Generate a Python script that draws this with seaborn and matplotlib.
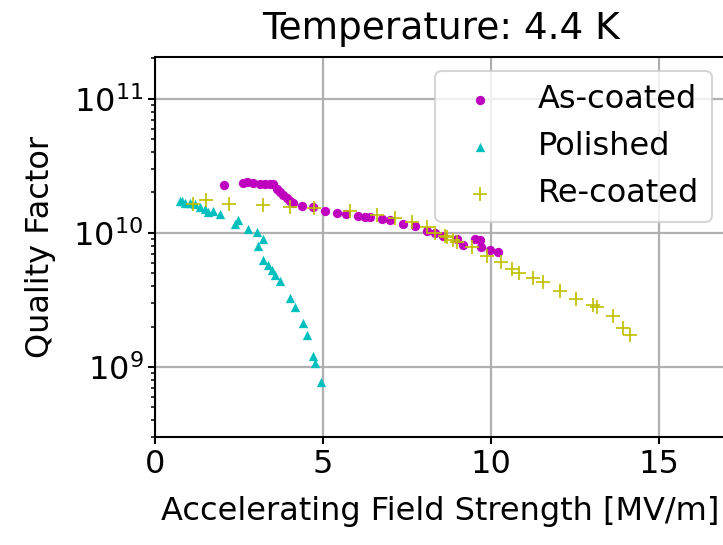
import numpy as np
import pandas as pd
import matplotlib
matplotlib.use("Agg")
import matplotlib.pyplot as plt
import seaborn as sns

# As-coated
asc_x = [2.05, 2.63, 2.73, 2.93, 3.13, 3.27, 3.42, 3.51, 3.62, 3.72, 3.82, 3.92, 4.02, 4.12,
         4.37, 4.71, 5.06, 5.41, 5.70, 6.05, 6.25, 6.40, 6.75, 7.00, 7.39, 7.74, 8.09, 8.33,
         8.58, 8.98, 9.18, 9.52, 9.67, 9.72, 9.97, 10.22]
asc_y = [2.29e10, 2.35e10, 2.39e10, 2.36e10, 2.32e10, 2.33e10, 2.33e10, 2.33e10, 2.13e10, 2.01e10,
         1.90e10, 1.83e10, 1.74e10, 1.68e10, 1.58e10, 1.56e10, 1.46e10, 1.41e10, 1.39e10, 1.34e10,
         1.32e10, 1.31e10, 1.27e10, 1.24e10, 1.17e10, 1.12e10, 1.03e10, 9.9e9, 9.4e9, 9.0e9,
         8.1e9, 9.0e9, 8.9e9, 7.84e9, 7.4e9, 7.15e9]

# Polished
pol_x = [0.74, 0.79, 0.89, 1.04, 1.19, 1.34, 1.49, 1.59, 1.74, 1.93, 2.38, 2.48, 2.78, 3.03,
         3.22, 3.08, 3.22, 3.37, 3.47, 3.57, 3.72, 4.02, 4.17, 4.41, 4.53, 4.69, 4.76, 4.93]
pol_y = [1.74e10, 1.72e10, 1.68e10, 1.67e10, 1.63e10, 1.57e10, 1.51e10, 1.43e10, 1.45e10, 1.39e10,
         1.17e10, 1.24e10, 1.07e10, 1.01e10, 9.05e9, 7.93e9, 6.25e9, 5.73e9, 5.26e9, 4.88e9,
         4.38e9, 3.24e9, 2.81e9, 2.13e9, 1.73e9, 1.21e9, 1.07e9, 7.67e8]

# Re-coated
rec_x = [1.12, 1.52, 2.21, 3.22, 4.02, 4.74, 5.80, 6.62, 7.14, 7.64, 8.09, 8.33, 8.63, 8.68,
         8.88, 8.98, 9.43, 9.87, 10.30, 10.62, 10.84, 11.25, 11.56, 12.05, 12.53, 13.05,
         13.15, 13.64, 13.92, 14.14]
rec_y = [1.63e10, 1.77e10, 1.63e10, 1.62e10, 1.57e10, 1.53e10, 1.46e10, 1.35e10, 1.30e10, 1.20e10,
         1.10e10, 1.00e10, 9.5e9, 9.3e9, 8.9e9, 8.5e9, 7.8e9, 6.75e9, 6.1e9, 5.4e9, 5.05e9,
         4.6e9, 4.3e9, 3.7e9, 3.23e9, 2.89e9, 2.8e9, 2.4e9, 1.94e9, 1.73e9]

labels = ["As-coated", "Polished", "Re-coated"]
title = "Temperature: 4.4 K"
xlabel = "Accelerating Field Strength [MV/m]"
ylabel = "Quality Factor"

plt.rcParams['font.family'] = ['DejaVu Sans']

fig = plt.figure(figsize=(7.23, 5.45), dpi=100)
ax = fig.add_axes([155/723, (545-437)/545, (726-155)/723, (437-57)/545])

df_a = pd.DataFrame({"x": asc_x, "y": asc_y})
df_p = pd.DataFrame({"x": pol_x, "y": pol_y})
df_r = pd.DataFrame({"x": rec_x, "y": rec_y})

MAG = (0.75, 0.0, 0.75)
CYA = (0.0, 0.75, 0.75)
YEL = (0.75, 0.75, 0.0)

sns.scatterplot(data=df_a, x="x", y="y", ax=ax, color=MAG, marker="o", s=45,
                linewidth=0, label=labels[0], zorder=3)
sns.scatterplot(data=df_p, x="x", y="y", ax=ax, color=CYA, marker="^", s=45,
                linewidth=0, label=labels[1], zorder=3)
sns.scatterplot(data=df_r, x="x", y="y", ax=ax, color=YEL, marker="+", s=110,
                linewidth=1.2, label=labels[2], zorder=3)

ax.set_yscale("log")
ax.set_xlim(0, 17)
ax.set_ylim(3.0e8, 2.05e11)
ax.set_xticks([0, 5, 10, 15])
ax.grid(True, which="major", color="#b0b0b0", linewidth=1.6)
ax.set_axisbelow(True)
for s in ax.spines.values():
    s.set_color("black")
    s.set_linewidth(1.5)
ax.tick_params(axis="both", which="major", labelsize=23, colors="black", length=5, width=1.5)
ax.tick_params(axis="y", which="minor", length=3, width=1.1, colors="black")
ax.set_title(title, fontsize=27, pad=13, color="black")
ax.set_xlabel(xlabel, fontsize=23, labelpad=12, color="black")
ax.set_ylabel(ylabel, fontsize=23, labelpad=12, color="black")
leg = ax.legend(loc="upper right", fontsize=23, frameon=True, handletextpad=0.8,
                borderaxespad=0.45)
leg.get_frame().set_edgecolor("#cccccc")
leg.get_frame().set_linewidth(1.5)

fig.savefig("out.png", dpi=100)
